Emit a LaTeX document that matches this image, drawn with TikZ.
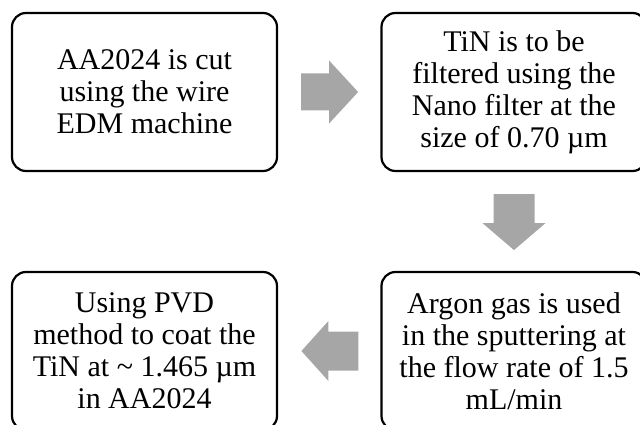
\documentclass[tikz,border=0pt]{standalone}
\usepackage{fontspec}
\setmainfont{Liberation Serif}
\usetikzlibrary{calc}
\definecolor{arrowgray}{HTML}{A6A6A6}
\tikzset{
  stepbox/.style={draw=black, line width=2.2pt, rounded corners=14pt, fill=white,
    minimum width=265pt, minimum height=158pt, align=center, inner sep=0pt,
    font=\fontsize{30}{32}\selectfont},
  blockarrow/.style={fill=arrowgray, draw=none}
}
\begin{document}
\begin{tikzpicture}[x=1pt,y=-1pt]
\useasboundingbox (0,0) rectangle (640,425);
\clip (0,0) rectangle (640,425);
\node[stepbox] (b1) at (144.5,92) {AA2024 is cut\\using the wire\\EDM machine};
\node[stepbox] (b2) at (514,92) {TiN is to be\\filtered using the\\Nano filter at the\\size of 0.70 µm};
\node[stepbox] (b4) at (514,351) {Argon gas is used\\in the sputtering at\\the flow rate of 1.5\\mL/min};
\node[stepbox] (b3) at (144.5,351) {Using PVD\\method to coat the\\TiN at \textasciitilde{} 1.465 µm\\in AA2024};
% block arrows
\path[blockarrow, shift={($(b1.east)+(23pt,0)$)}]
  (0,-18.5) -- (28,-18.5) -- (28,-31.5) -- (57,0) -- (28,31.5) -- (28,18.5) -- (0,18.5) -- cycle;
\path[blockarrow, shift={($(b2.south)+(0,22)$)}, rotate=-90]
  (0,-20.5) -- (29,-20.5) -- (29,-31.5) -- (56,0) -- (29,31.5) -- (29,20.5) -- (0,20.5) -- cycle;
\path[blockarrow, shift={($(b4.west)+(-22pt,0)$)}, rotate=180]
  (0,-19.5) -- (30,-19.5) -- (30,-30) -- (57,0) -- (30,30) -- (30,19.5) -- (0,19.5) -- cycle;
\end{tikzpicture}
\end{document}
